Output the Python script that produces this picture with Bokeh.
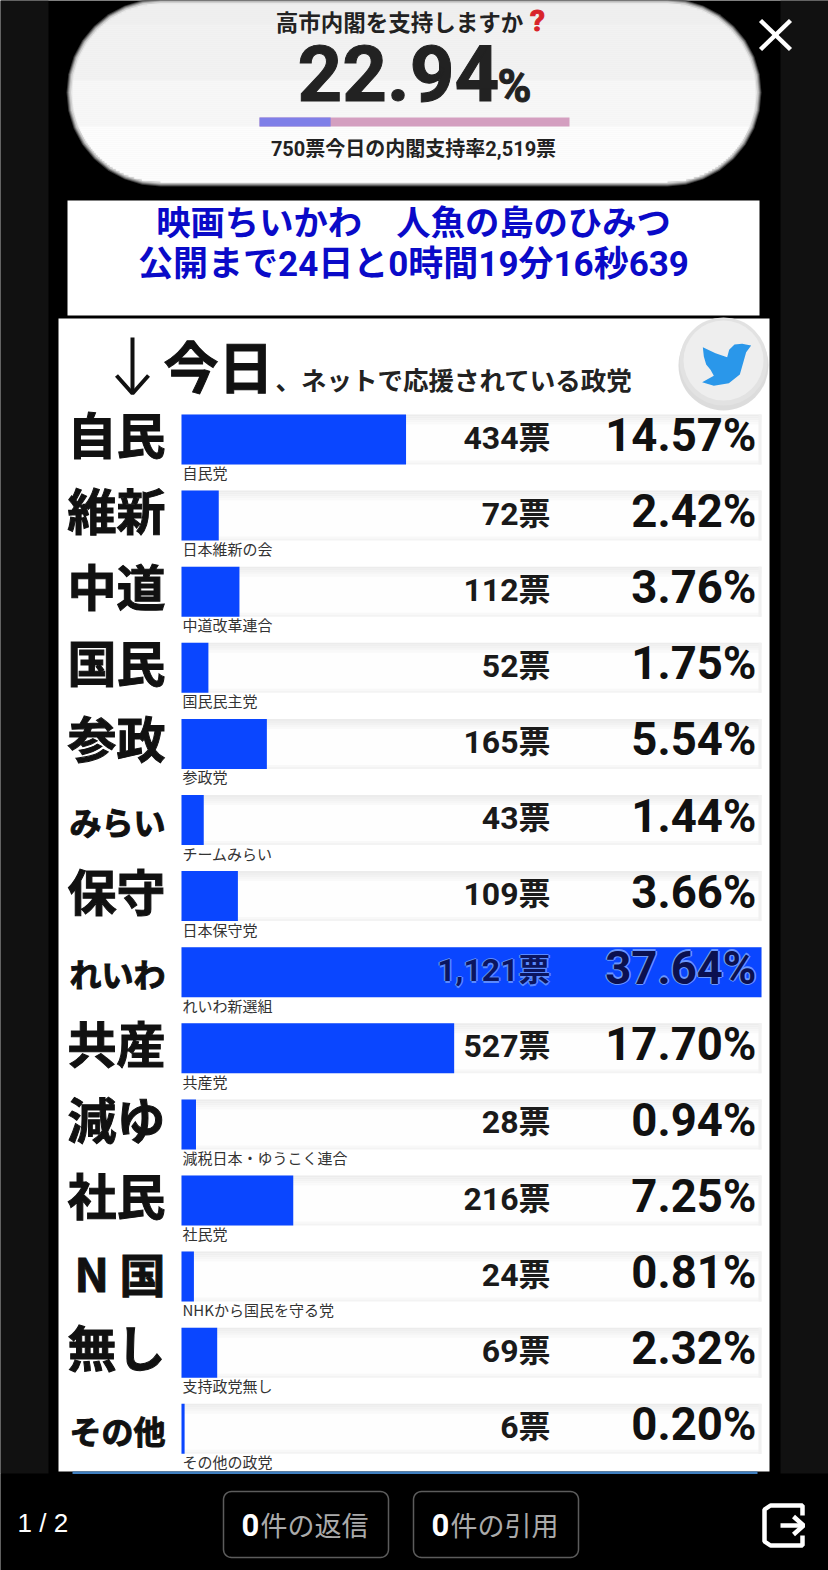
import math
from bokeh.plotting import figure
from bokeh.models import Range1d
from bokeh.core.properties import value
from bokeh.embed import file_html
from bokeh.resources import INLINE

# ---- data ----
short_names = ["自民","維新","中道","国民","参政","みらい","保守","れいわ","共産","減ゆ","社民","N国","無し","その他"]
full_names = ["自民党","日本維新の会","中道改革連合","国民民主党","参政党","チームみらい","日本保守党","れいわ新選組","共産党","減税日本・ゆうこく連合","社民党","NHKから国民を守る党","支持政党無し","その他の政党"]
votes = [434,72,112,52,165,43,109,1121,527,28,216,24,69,6]
vote_labels = ["434票","72票","112票","52票","165票","43票","109票","1,121票","527票","28票","216票","24票","69票","6票"]
pct_labels = ["14.57%","2.42%","3.76%","1.75%","5.54%","1.44%","3.66%","37.64%","17.70%","0.94%","7.25%","0.81%","2.32%","0.20%"]
support_votes = [750, 2519]
support_pct = "22.94"
title_q = "高市内閣を支持しますか"
support_line = "750票今日の内閣支持率2,519票"
banner = ["映画ちいかわ\u3000人魚の島のひみつ", "公開まで24日と0時間19分16秒639"]

W, H = 828, 1570
JP = "Noto Sans CJK JP"
MIX = "Roboto, 'Noto Sans CJK JP'"

p = figure(width=W, height=H, x_range=Range1d(0, W), y_range=Range1d(H, 0),
           output_backend="svg", toolbar_location=None, min_border=0,
           background_fill_color="#000000", border_fill_color="#000000",
           outline_line_color=None)
p.xaxis.visible = False
p.yaxis.visible = False
p.grid.visible = False

BAR_X0, BAR_X1 = 181, 761
scale = (BAR_X1 - BAR_X0) / max(votes)
p.extra_x_ranges["votes"] = Range1d(-BAR_X0 / scale, (W - BAR_X0) / scale)
p.extra_x_ranges["support"] = Range1d(-259 / 310 * sum(support_votes), (W - 259) / 310 * sum(support_votes))


def box(x0, x1, y0, y1, c, alpha=1.0):
    p.quad(left=x0, right=x1, top=y0, bottom=y1, fill_color=c, line_color=None, fill_alpha=alpha)


def txt(x, y, s, size, color="#111111", font=JP, style="bold", align="left", base="middle", heavy=False):
    kw = {"text_outline_color": color} if heavy else {}
    p.text(x=[x], y=[y], text=[s], text_font=value(font), text_font_size=f"{size}px",
           text_font_style=style, text_color=color, text_align=align, text_baseline=base, **kw)


def rrect(x0, x1, y0, y1, r):
    xs, ys = [], []
    for cx, cy, a0 in [(x1 - r, y0 + r, -90), (x1 - r, y1 - r, 0), (x0 + r, y1 - r, 90), (x0 + r, y0 + r, 180)]:
        for k in range(9):
            a = math.radians(a0 + k * 90 / 8)
            xs.append(cx + r * math.cos(a))
            ys.append(cy + r * math.sin(a))
    return xs + xs[:1], ys + ys[:1]


# page background
box(0, 48, 0, 1473, "#111111")
box(780, W, 0, 1473, "#111111")

# pill
PX0, PX1, PY0, PY1 = 66, 761, -2, 186
for inset, c in [(0, "#3a3a3a"), (1, "#777777"), (2, "#a8a8a8"), (3, "#cfcfcf"), (4.5, "#e8e8e8")]:
    xs, ys = rrect(PX0 + inset, PX1 - inset, PY0 + inset, PY1 - inset, 94 - inset)
    p.patch(xs, ys, fill_color=c, line_color=None)
R = 94 - 6
iy0, iy1, ix0, ix1 = PY0 + 6, PY1 - 5, PX0 + 6, PX1 - 6
y = iy0
while y < iy1:
    ym = y + 1
    dy = max(0, max(iy0 + R - ym, ym - (iy1 - R)))
    dx = R - math.sqrt(max(0, R * R - dy * dy))
    c = "#efefef" if ym < 24 else "#f2f2f2" if ym < 80 else "#f7f7f7" if ym < 126 else "#fdfdfd"
    box(ix0 + dx, ix1 - dx, y, y + 2.3, c)
    y += 2

txt(399, 20, title_q, 22.5, "#222222", align="center")
txt(537, 20, "?", 30, "#d8232a", font="Roboto", align="center", heavy=True)
txt(297, 72, support_pct, 78, "#222222", font="Roboto", heavy=True)
txt(497, 85, "%", 46, "#222222", font="Roboto", heavy=True)
box(259, 569, 117, 126, "#d49fc0")
p.quad(left=[0], right=[support_votes[0]], top=[117], bottom=[126], x_range_name="support",
       fill_color="#7f7fe8", line_color=None)
txt(413, 148, support_line, 20, "#222222", font=MIX, align="center")

# close
p.multi_line([[760, 790], [790, 760]], [[20, 49], [20, 49]], line_color="#ffffff", line_width=4.5)

# banner
box(67, 759, 200, 315, "#ffffff")
txt(413, 219, banner[0], 34.3, "#0a0ac8", align="center")
txt(413, 264, banner[1], 35, "#0a0ac8", font=MIX, align="center")

# panel
box(58, 769, 318, 1471, "#ffffff")
box(72, 757, 1471, 1473.5, "#3f7fc0")
p.line([132, 132], [337, 392], line_color="#111111", line_width=4)
p.line([116, 132, 148], [375, 393, 375], line_color="#111111", line_width=4)
txt(163, 363, "今日", 55, "#111111", heavy=True)
txt(275, 378, "、ネットで応援されている政党", 25.5, "#222222")

# twitter button
p.circle(x=[723], y=[365], radius=45, fill_color="#c4c4c4", line_color=None, fill_alpha=0.6)
p.circle(x=[723], y=[361], radius=44, fill_color="#e2e2e2", line_color=None)
p.circle(x=[723], y=[360], radius=40, fill_color="#eeeeee", line_color=None)
bird = [(272,135),(256,132),(245,130),(222,132),(206,148),(200,170),(165,158),(127,140),(130,168),(137,192),(150,208),(160,226),(125,245),(160,256),(205,248),(238,222),(250,180),(257,155)]
p.patch([660 + a / 3 for a, b in bird], [300 + b / 3 for a, b in bird], fill_color="#2a97ea", line_color=None)

# rows
ROW0, STEP, BAR_H = 414, 76.1, 50
big = {"みらい", "れいわ", "その他"}
for i, (sn, fn, v, vl, pl) in enumerate(zip(short_names, full_names, votes, vote_labels, pct_labels)):
    top = ROW0 + i * STEP
    mid = top + BAR_H / 2
    # track with soft shadow edges
    box(BAR_X0, BAR_X1, top, top + BAR_H, "#fefefe")
    for k, c in enumerate(["#ececec", "#efefef", "#f2f2f2", "#f6f6f6", "#f9f9f9"]):
        box(BAR_X0, BAR_X1, top + k * 2, top + k * 2 + 2, c)
    for k, c in enumerate(["#f8f8f8", "#f3f3f3"]):
        box(BAR_X0, BAR_X1, top + BAR_H - 4 + k * 2, top + BAR_H - 2 + k * 2, c)
    box(BAR_X1 - 3, BAR_X1, top, top + BAR_H, "#f1f1f1")
    p.hbar(y=[mid], left=[0], right=[v], height=BAR_H, x_range_name="votes",
           fill_color="#0a46ff", line_color=None)
    if sn in big:
        txt(165, mid + 1, sn, 32, "#111111", align="right", heavy=True)
    elif sn == "N国":
        txt(165, mid - 5, "N 国", 46, "#111111", align="right", heavy=True)
    else:
        txt(165, mid - 7, sn, 49, "#111111", align="right", heavy=True)
    if v == max(votes):
        for dx, dy in [(-1.5, 0), (1.5, 0), (0, -1.5), (0, 1.5)]:
            txt(550 + dx, mid - 2 + dy, vl, 32, "#5a8aff", font=MIX, align="right")
            txt(756 + dx, mid - 4 + dy, pl, 45.5, "#6a96ff", font="Roboto", align="right")
        txt(550, mid - 2, vl, 32, "#0b1560", font=MIX, align="right")
        txt(756, mid - 4, pl, 45.5, "#0b1050", font="Roboto", align="right")
    else:
        txt(550, mid - 2, vl, 32, "#1a1a1a", font=MIX, align="right")
        txt(756, mid - 4, pl, 45.5, "#111111", font="Roboto", align="right")
    txt(182, top + 58, fn, 15, "#333333", style="normal")

# bottom bar
box(0, W, 1473.5, H, "#000000")
txt(17, 1522, "1 / 2", 26, "#ffffff", font="Liberation Sans", style="normal")
for x0, x1, lab in [(223, 388, "件の返信"), (413, 578, "件の引用")]:
    xs, ys = rrect(x0, x1, 1491, 1557, 8)
    p.line(xs, ys, line_color="#5c5c5c", line_width=1.5)
    txt(x0 + 18, 1524, "0", 31, "#ffffff", font="Roboto")
    txt(x0 + 37, 1524, lab, 27, "#aaaaaa", style="normal")

# exit icon
p.line([802, 802, 770, 764, 764, 770, 802, 802], [1515, 1505, 1505, 1509, 1541, 1545, 1545, 1535],
       line_color="#ffffff", line_width=4.5)
p.line([780, 802], [1525, 1525], line_color="#ffffff", line_width=4.5)
p.line([793, 803, 793], [1516, 1525, 1534], line_color="#ffffff", line_width=4.5)

open("out.html", "w").write(file_html(p, INLINE))
